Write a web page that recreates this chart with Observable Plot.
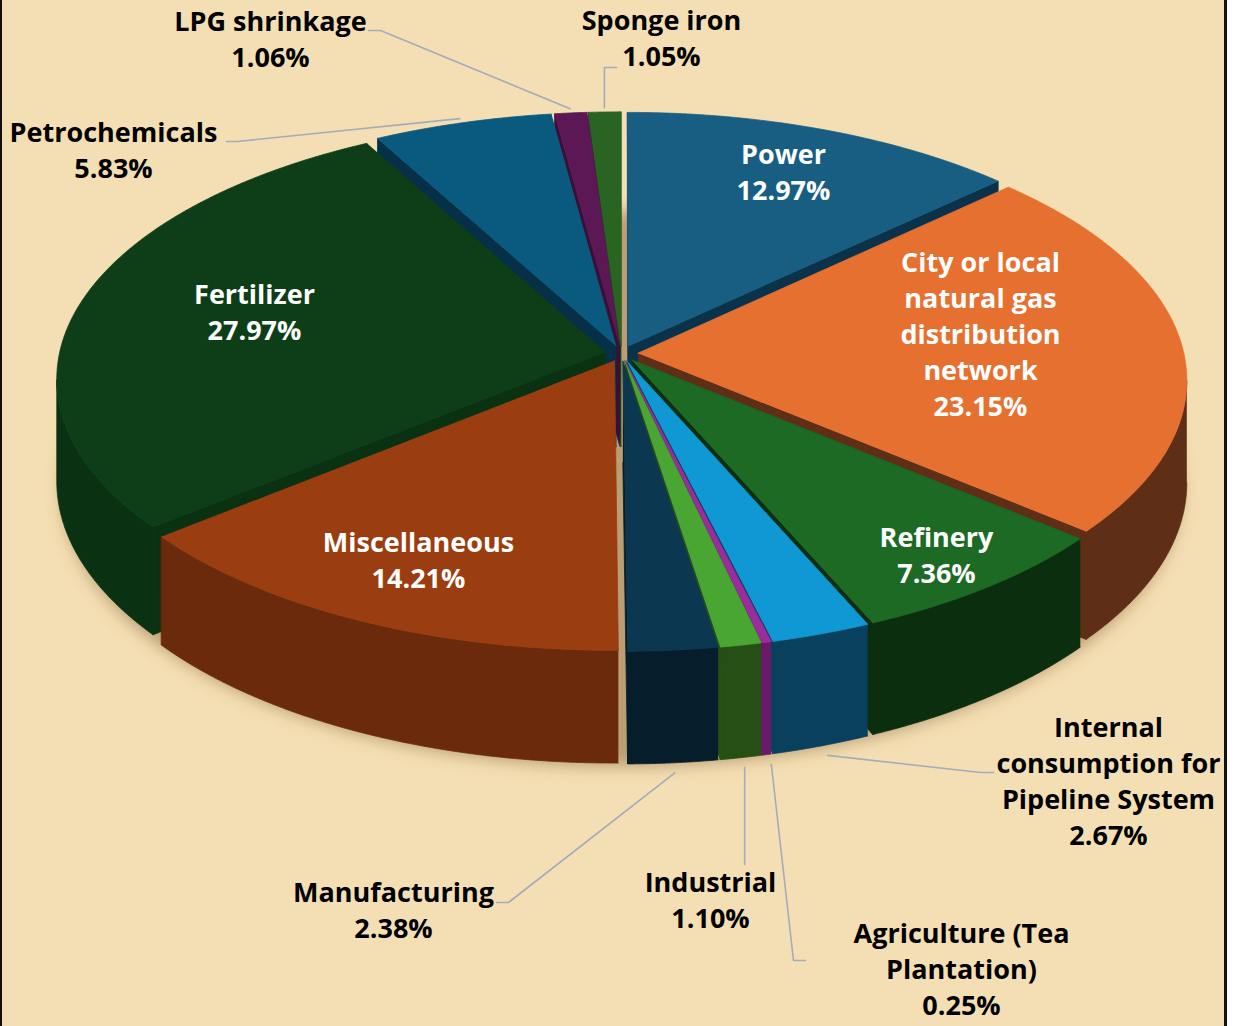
<!DOCTYPE html>
<html><head><meta charset="utf-8">
<script src="https://cdn.jsdelivr.net/npm/d3@7"></script>
<script src="https://cdn.jsdelivr.net/npm/@observablehq/plot@0.6"></script>
<style>
html,body{margin:0;padding:0;background:#fff;}
#frame{position:absolute;left:0;top:0;width:1222px;height:1026px;background:#F4DFB4;border-left:2px solid #111;border-right:3px solid #111;overflow:hidden;}
</style></head><body><div id="frame"></div>
<script>
// ---- data ----
const categories = ["Power","City or local natural gas distribution network","Refinery","Internal consumption for Pipeline System","Agriculture (Tea Plantation)","Industrial","Manufacturing","Miscellaneous","Fertilizer","Petrochemicals","LPG shrinkage","Sponge iron"];
const shares = [12.97,23.15,7.36,2.67,0.25,1.10,2.38,14.21,27.97,5.83,1.06,1.05];
const labelLines = ["Power","City or local\nnatural gas\ndistribution\nnetwork","Refinery","Internal\nconsumption for\nPipeline System","Agriculture (Tea\nPlantation)","Industrial","Manufacturing","Miscellaneous","Fertilizer","Petrochemicals","LPG shrinkage","Sponge iron"];

// ---- styles ----
const topColors = ["#185E82","#E67030","#1C6A24","#1098D4","#9B2C9E","#4AA632","#0B3850","#9A3D10","#0E3E18","#0A5A80","#5C1854","#2A6422"];
const sideColors = ["#0A324B","#5E2E16","#0B2E0E","#08405E","#6A1A6A","#264F16","#061E2C","#6A2A0B","#0A3212","#053048","#3A0E35","#1A4015"];

// ---- label layout (pixel anchors) ----
const labelAt = {
  "Power":[783,170],"City or local natural gas distribution network":[980,332],"Refinery":[936,553],
  "Internal consumption for Pipeline System":[1108,779],"Agriculture (Tea Plantation)":[961,967],
  "Industrial":[710,898],"Manufacturing":[393,908],"Miscellaneous":[418,558],"Fertilizer":[254,310],
  "Petrochemicals":[113,148],"LPG shrinkage":[270,37],"Sponge iron":[661,36]
};
const leaderBends = {
  "Internal consumption for Pipeline System":[[980,772],[993,772]],
  "Agriculture (Tea Plantation)":[[793,960],[805,960]],
  "Industrial":[[null,864]],
  "Manufacturing":[[508,902],[496,902]],
  "Petrochemicals":[[237,141],[226,141]],
  "LPG shrinkage":[[380,30],[368,30]],
  "Sponge iron":[[null,67],[616,67]]
};

// ---- 3D pie geometry ----
const G = {cx:621, cy:353, rx:546, ry:259, p:0.101, h:101, e:0.03};
const TAU = 2*Math.PI;
function proj(u,v,z){ const s=1/(1+G.p*v); return [G.cx+G.rx*u*s, G.cy-G.ry*v*s+z*G.h*s]; }
const ends = d3.cumsum(shares); const total = ends[ends.length-1];
const slices = categories.map((c,i)=>{
  const a1=TAU*ends[i]/total, a0=a1-TAU*shares[i]/total, m=(a0+a1)/2;
  return {c,i,a0,a1,m,ou:G.e*Math.sin(m),ov:G.e*Math.cos(m)};
});
function rim(s,t,z,r=1){ return proj(r*Math.sin(t)+s.ou, r*Math.cos(t)+s.ov, z); }
function apex(s,z){ return proj(s.ou,s.ov,z); }
function arcPts(s,t0,t1,z,r=1){ const n=Math.max(2,Math.ceil((t1-t0)/(TAU/1440))); return d3.range(n+1).map(k=>rim(s,t0+(t1-t0)*k/n,z,r)); }
const cam=[0,-1/G.p];
function wallVisible(s,t){ return -1 - s.ou*Math.sin(t) - s.ov*Math.cos(t) - Math.cos(t)/G.p > 0; }

const faceRows=[]; let fid=0;
function addFace(pts,fill){ const id=fid++; for(const [x,y] of pts) faceRows.push({face:id,x,y,fill}); }
const order = slices.slice().sort((a,b)=>Math.cos(b.m)-Math.cos(a.m));
for(const s of order){
  const side=sideColors[s.i], top=topColors[s.i];
  const n0=[-Math.cos(s.a0),Math.sin(s.a0)];
  if(n0[0]*(cam[0]-s.ou)+n0[1]*(cam[1]-s.ov)>0) addFace([apex(s,0),rim(s,s.a0,0),rim(s,s.a0,1),apex(s,1)],side);
  const n1=[Math.cos(s.a1),-Math.sin(s.a1)];
  if(n1[0]*(cam[0]-s.ou)+n1[1]*(cam[1]-s.ov)>0) addFace([apex(s,0),rim(s,s.a1,0),rim(s,s.a1,1),apex(s,1)],side);
  const N=Math.max(4,Math.ceil((s.a1-s.a0)/(TAU/2880)));
  let t0=null,t1=null;
  for(let k=0;k<=N;k++){ const t=s.a0+(s.a1-s.a0)*k/N; if(wallVisible(s,t)){ if(t0===null)t0=t; t1=t; } }
  if(t0!==null && t1>t0){
    const topArc=arcPts(s,t0,t1,0), botArc=arcPts(s,t0,t1,1).reverse();
    addFace(topArc.concat(botArc),side);
  }
  addFace([apex(s,0)].concat(arcPts(s,s.a0,s.a1,0)),top);
}

// shadow beneath the pie
const shadowRows = d3.range(0,361,2).map(d=>{ const t=d*Math.PI/180; const [x,y]=proj(1.02*Math.sin(t),1.02*Math.cos(t),1); return {face:0,x,y:y+6}; });

// leaders from slice rims
const leaderRows=[];
for(const s of slices){
  const bends=leaderBends[s.c]; if(!bends) continue;
  const front=Math.cos(s.m)<0;
  const [x0,y0]=front? rim(s,s.m,1,1.03) : rim(s,s.m,0,1.02);
  leaderRows.push({id:s.c,x:x0,y:y0});
  for(const [x,y] of bends) leaderRows.push({id:s.c,x:(x===null?x0:x),y});
}
const labelRows = slices.map(s=>({x:labelAt[s.c][0],y:labelAt[s.c][1],
  text:labelLines[s.i]+"\n"+shares[s.i].toFixed(2)+"%",
  fill: leaderBends[s.c] ? "#000000" : "#FFFFFF"}));

const chart = Plot.plot({
  width:1222, height:1026, margin:0,
  x:{domain:[2,1224], range:[0,1222], axis:null},
  y:{domain:[0,1026], range:[0,1026], axis:null},
  color:{type:"identity"},
  style:{background:"transparent", overflow:"visible"},
  marks:[
    Plot.line(shadowRows,{x:"x",y:"y",z:"face",fill:"rgba(120,80,30,0.45)",stroke:"none"}),
    Plot.line(faceRows,{x:"x",y:"y",z:"face",fill:"fill",stroke:"fill",strokeWidth:0.8,strokeLinejoin:"round"}),
    Plot.line(leaderRows,{x:"x",y:"y",z:"id",stroke:"#A4ACB9",strokeWidth:1.6}),
    Plot.text(labelRows,{x:"x",y:"y",text:"text",fill:"fill",fontSize:27,fontWeight:700,fontFamily:"'Open Sans', sans-serif",lineHeight:1.333,textAnchor:"middle",lineAnchor:"middle"})
  ]
});
const svg=d3.select(chart);
const defs=svg.insert("defs",":first-child");
defs.append("filter").attr("id","pieShadow").attr("x","-20%").attr("y","-20%").attr("width","140%").attr("height","140%")
  .append("feGaussianBlur").attr("stdDeviation",8);
svg.select("g[aria-label='line']").attr("filter","url(#pieShadow)");
document.getElementById("frame").appendChild(chart);
</script></body></html>
